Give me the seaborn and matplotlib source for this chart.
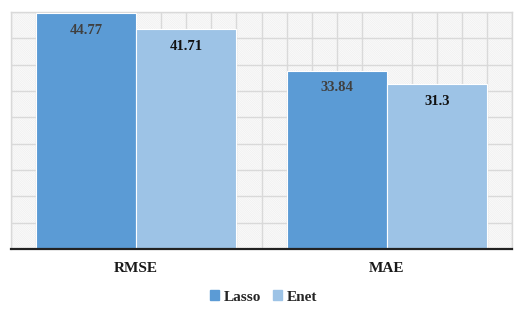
import pandas as pd
import matplotlib.pyplot as plt
import seaborn as sns
from matplotlib.patches import Rectangle

# values
metrics = ["RMSE", "MAE"]
lasso = [44.77, 33.84]
enet = [41.71, 31.3]
models = ["Lasso", "Enet"]
colors = ["#5B9BD5", "#9DC3E6"]

df = pd.DataFrame({
    "metric": metrics * 2,
    "model": [models[0]] * 2 + [models[1]] * 2,
    "value": lasso + enet,
})

sns.set_style("white")
plt.rcParams["font.family"] = ["Liberation Serif", "DejaVu Serif"]
plt.rcParams["hatch.linewidth"] = 0.3
plt.rcParams["hatch.color"] = "#e8e8e8"

fig = plt.figure(figsize=(5.27, 3.09), dpi=100)
ax = fig.add_axes([11 / 527, 60 / 309, 501 / 527, 237 / 309])

# fine hatched background like the excel chart area
ax.add_patch(Rectangle((0, 0), 1, 1, transform=ax.transAxes, facecolor="#fcfcfc",
                       edgecolor="#e8e8e8", hatch="\\" * 18, lw=0, zorder=0))

sns.barplot(data=df, x="metric", y="value", hue="model", palette=colors,
            saturation=1, width=0.8, edgecolor="white", linewidth=0.8,
            ax=ax, zorder=3)

ax.set_xlim(-0.5, 1.5)
ax.set_ylim(0, 45)
ax.set_yticks(range(0, 46, 5))
ax.set_yticklabels([])
ax.set_xticks([x / 10 - 0.5 for x in range(0, 21)], minor=True)
ax.grid(True, which="major", axis="y", color="#d9d9d9", lw=1, zorder=1)
ax.grid(True, which="minor", axis="x", color="#d9d9d9", lw=1, zorder=1)
ax.tick_params(axis="both", which="both", length=0)
ax.set_xticks([0, 1])
ax.set_xticklabels(metrics, fontsize=11, fontweight="bold", color="#1a1a1a")
ax.tick_params(axis="x", pad=9)
ax.set_xlabel("")
ax.set_ylabel("")

for s in ["top", "left", "right"]:
    ax.spines[s].set_color("#d9d9d9")
    ax.spines[s].set_linewidth(1)
ax.spines["bottom"].set_color("#222222")
ax.spines["bottom"].set_linewidth(1.6)
ax.spines["bottom"].set_zorder(5)

label_colors = ["#404040", "#111111"]
for cont, lc in zip(ax.containers, label_colors):
    ax.bar_label(cont, labels=[f"{v:g}" for v in cont.datavalues], padding=-17,
                 fontsize=10.5, fontweight="bold", color=lc)

ax.legend_.remove()
handles = [Rectangle((0, 0), 1, 1, color=c) for c in colors]
fig.legend(handles, models, loc="center", bbox_to_anchor=(0.5, 12 / 309), ncol=2,
           frameon=False, handlelength=0.6, handleheight=0.6, handletextpad=0.3,
           columnspacing=0.8, prop={"weight": "bold", "size": 11})

fig.savefig("out.png", dpi=100)
